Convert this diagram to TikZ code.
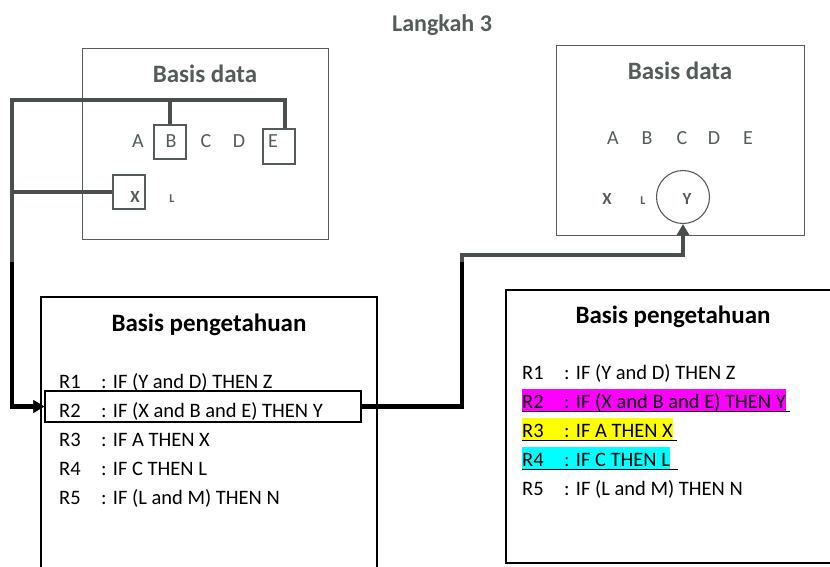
\documentclass[tikz,border=0pt]{standalone}
\usepackage{fontspec}
\setmainfont{Carlito}
\usetikzlibrary{arrows.meta}

\definecolor{dim}{RGB}{84,92,89}
\definecolor{wire}{RGB}{72,79,76}
\definecolor{hlpink}{RGB}{255,0,255}
\definecolor{hlyellow}{RGB}{255,255,0}
\definecolor{hlcyan}{RGB}{0,255,255}

% one rule of the knowledge base: label, then the condition in a tab column
\newcommand\rulerow[2]{\makebox[42pt][l]{#1}#2}

% the two connectors: facts B, E, X into rule R2, and R2 into goal Y
\newcommand\wirepaths[1]{%
  \draw[wireline, draw=#1, tip] (Edrop) |- (bus) |- (fired.west);
  \draw[wireline, draw=#1] (boxB.north) -- (boxB.north |- bus);
  \draw[wireline, draw=#1] (boxX.west) -- (boxX.west -| bus);
  \draw[wireline, draw=#1, tip] (fired.east) -| (rise) -| (goal.south);
}

\begin{document}
\begin{tikzpicture}[x=1pt,y=-1pt,
  heading/.style={anchor=base, inner sep=0, font=\fontsize{25}{30}\selectfont\bfseries},
  letter/.style={anchor=base, inner sep=0, text=dim, font=\fontsize{20}{24}\selectfont},
  fact/.style={anchor=base, inner sep=0, text=dim, font=\fontsize{17}{20}\selectfont\bfseries},
  smallfact/.style={anchor=base, inner sep=0, text=dim, font=\fontsize{12}{14}\selectfont\bfseries},
  databox/.style={draw=dim, line width=1.3pt, rectangle, anchor=north west, inner sep=0},
  markbox/.style={draw=dim, line width=1.1pt, rectangle, inner sep=0},
  kbbox/.style={draw=black, line width=1.5pt, rectangle, anchor=north west, inner sep=0},
  rulebox/.style={draw=black, line width=1.1pt, rectangle, inner sep=0},
  ruletext/.style={anchor=base west, inner sep=0, font=\fontsize{20.5}{24}\selectfont},
  marked/.style={ruletext, text height=19pt, text depth=4pt},
  wireline/.style={line width=4.5pt},
  tip/.style={-{Triangle[length=11pt,width=12pt]}},
  underline/.style={draw=black, line width=1.3pt}
]
\useasboundingbox (0,0) rectangle (830,566);

% ---- title ----
\node[heading, text=dim, font=\fontsize{24}{28}\selectfont\bfseries] (step) at (442,31) {Langkah 3};

% ---- left database ----
\node[databox, minimum width=246pt, minimum height=191pt] (dbL) at (82,48) {};
\node[heading, text=dim] (dbLtitle) at (205,82) {Basis data};
\node[markbox, minimum width=32pt, minimum height=34pt] (boxB) at (170,142) {};
\node[markbox, minimum width=32pt, minimum height=35pt] (boxE) at (279,146.5) {};
\node[markbox, minimum width=32pt, minimum height=34pt] (boxX) at (129,192) {};
\node[letter] (lA) at (138,147) {A};
\node[letter] (lB) at (171,147) {B};
\node[letter] (lC) at (206,147) {C};
\node[letter] (lD) at (239,147) {D};
\node[letter] (lE) at (273,147) {E};
\node[fact] (lX) at (135,202) {X};
\node[smallfact] (lL) at (172,202) {L};

% ---- right database ----
\node[databox, minimum width=248pt, minimum height=190pt] (dbR) at (556,45) {};
\node[heading, text=dim] (dbRtitle) at (680,79) {Basis data};
\node[letter] (rA) at (613,144) {A};
\node[letter] (rB) at (647,144) {B};
\node[letter] (rC) at (682,144) {C};
\node[letter] (rD) at (714,144) {D};
\node[letter] (rE) at (748,144) {E};
\node[fact] (rX) at (607,204) {X};
\node[smallfact] (rL) at (643,204) {L};
\node[draw=dim, line width=1.1pt, circle, minimum size=53pt, inner sep=0] (goal) at (683,197) {};
\node[fact] (rY) at (687,204) {Y};

% ---- left knowledge base ----
\node[kbbox, minimum width=336pt, minimum height=290pt] (kbL) at (40,296) {};
\node[heading] (kbLtitle) at (209,331) {Basis pengetahuan};
\node[rulebox, minimum width=316pt, minimum height=31pt] (fired) at (203,406.5) {};
\node[ruletext] (a1) at (59,388) {\rulerow{R1}{: IF (Y and D) THEN Z}};
\node[ruletext] (a2) at (59,417) {\rulerow{R2}{: IF (X and B and E) THEN Y}};
\node[ruletext] (a3) at (59,446) {\rulerow{R3}{: IF A THEN X}};
\node[ruletext] (a4) at (59,475) {\rulerow{R4}{: IF C THEN L}};
\node[ruletext] (a5) at (59,504) {\rulerow{R5}{: IF (L and M) THEN N}};

% ---- right knowledge base ----
\node[kbbox, minimum width=335pt, minimum height=273pt] (kbR) at (505,289) {};
\node[heading] (kbRtitle) at (673,323) {Basis pengetahuan};
\node[ruletext] (b1) at (522,379) {\rulerow{R1}{: IF (Y and D) THEN Z}};
\node[marked, fill=hlpink] (b2) at (522,408) {\rulerow{R2}{: IF (X and B and E) THEN Y}};
\node[marked, fill=hlyellow] (b3) at (522,437) {\rulerow{R3}{: IF A THEN X}};
\node[marked, fill=hlcyan] (b4) at (522,466) {\rulerow{R4}{: IF C THEN L}};
\node[ruletext] (b5) at (522,495) {\rulerow{R5}{: IF (L and M) THEN N}};
\draw[underline] ([yshift=1pt]b2.south west) -- ([xshift=4pt,yshift=1pt]b2.south east);
\draw[underline] ([yshift=1pt]b3.south west) -- ([xshift=4pt,yshift=1pt]b3.south east);
\draw[underline] ([yshift=1pt]b4.south west) -- ([xshift=8pt,yshift=1pt]b4.south east);

% ---- connectors: grey in the upper part, black lower down ----
\coordinate (bus) at (12,100);
\coordinate (Edrop) at ([xshift=6pt]boxE.north);
\coordinate (rise) at (462,255);
\wirepaths{wire}
\begin{scope}
  \clip (0,262) rectangle (830,566);
  \wirepaths{black}
\end{scope}
\end{tikzpicture}
\end{document}
